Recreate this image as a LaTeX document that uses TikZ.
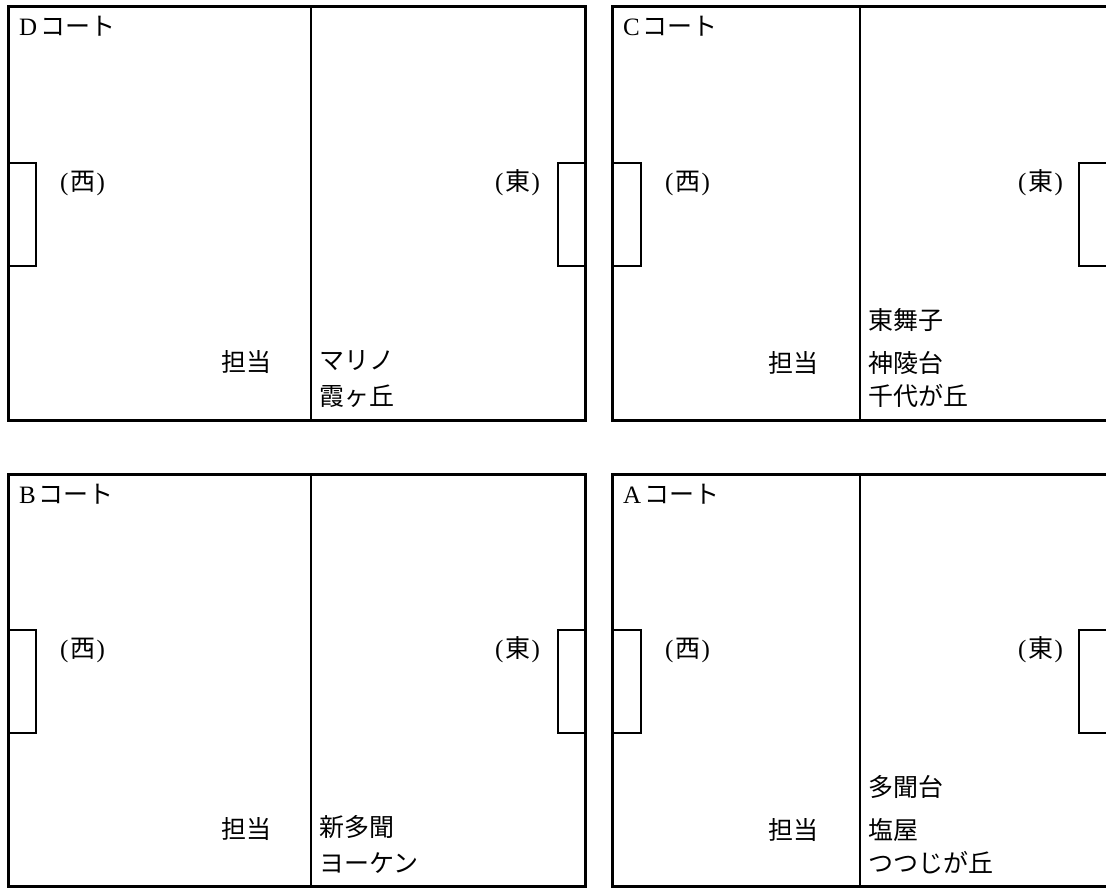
\documentclass[tikz,border=0pt]{standalone}
\usepackage{fontspec}
\setmainfont{Liberation Serif}
\newfontfamily\jp{Noto Sans CJK JP}
\begin{document}
\begin{tikzpicture}[x=1pt,y=-1pt,
  outer/.style={line width=3pt},
  inner/.style={line width=2pt},
  lbl/.style={anchor=base west,inner sep=0pt,font=\fontsize{25}{30}\selectfont},
  jtxt/.style={anchor=base west,inner sep=0pt,font=\jp\fontsize{25}{30}\selectfont}]
\useasboundingbox (0,0) rectangle (1106,888);
\clip (0,0) rectangle (1106,888);
% ---------- top row ----------
\begin{scope}
  % D court
  \draw[outer] (8,7) rectangle (585.5,420.5);
  \draw[inner] (311,7) -- (311,420.5);
  \draw[inner] (8,163) -| (36,266) -- (8,266);
  \draw[inner] (585.5,163) -| (558,266) -- (585.5,266);
  \node[lbl] (Dlab) at (19,36) {D\kern3pt{\jp コート}};
  \node[lbl] (Dw) at (60,190.5) {(\kern1.5pt{\jp 西}\kern1.5pt)};
  \node[lbl] (De) at (495,190.5) {(\kern1.5pt{\jp 東}\kern1.5pt)};
  \node[jtxt] (Dt) at (221,371.5) {担当};
  \node[jtxt] (D1) at (319,369.5) {マリノ};
  \node[jtxt] (D2) at (319,405.5) {霞ヶ丘};
  % C court
  \draw[outer] (612,7) rectangle (1112,420.5);
  \draw[inner] (859.5,7) -- (859.5,420.5);
  \draw[inner] (612,163) -| (640.5,266) -- (612,266);
  \draw[inner] (1112,163) -| (1079,266) -- (1112,266);
  \node[lbl] (Clab) at (623,36) {C\kern3pt{\jp コート}};
  \node[lbl] (Cw) at (665,190.5) {(\kern1.5pt{\jp 西}\kern1.5pt)};
  \node[lbl] (Ce) at (1018,190.5) {(\kern1.5pt{\jp 東}\kern1.5pt)};
  \node[jtxt] (Ct) at (768,372) {担当};
  \node[jtxt] (C1) at (868,329.5) {東舞子};
  \node[jtxt] (C2) at (868,372.5) {神陵台};
  \node[jtxt] (C3) at (868,405.5) {千代が丘};
\end{scope}
% ---------- bottom row ----------
\begin{scope}[shift={(0,467)}]
  % B court
  \draw[outer] (8,7) rectangle (585.5,419);
  \draw[inner] (311,7) -- (311,419);
  \draw[inner] (8,163) -| (36,266) -- (8,266);
  \draw[inner] (585.5,163) -| (558,266) -- (585.5,266);
  \node[lbl] (Blab) at (19,36) {B\kern3pt{\jp コート}};
  \node[lbl] (Bw) at (60,190.5) {(\kern1.5pt{\jp 西}\kern1.5pt)};
  \node[lbl] (Be) at (495,190.5) {(\kern1.5pt{\jp 東}\kern1.5pt)};
  \node[jtxt] (Bt) at (221,371.5) {担当};
  \node[jtxt] (B1) at (319,369.5) {新多聞};
  \node[jtxt] (B2) at (319,405.5) {ヨーケン};
  % A court
  \draw[outer] (612,7) rectangle (1112,419);
  \draw[inner] (859.5,7) -- (859.5,419);
  \draw[inner] (612,163) -| (640.5,266) -- (612,266);
  \draw[inner] (1112,163) -| (1079,266) -- (1112,266);
  \node[lbl] (Alab) at (623,36) {A\kern3pt{\jp コート}};
  \node[lbl] (Aw) at (665,190.5) {(\kern1.5pt{\jp 西}\kern1.5pt)};
  \node[lbl] (Ae) at (1018,190.5) {(\kern1.5pt{\jp 東}\kern1.5pt)};
  \node[jtxt] (At) at (768,372) {担当};
  \node[jtxt] (A1) at (868,329.5) {多聞台};
  \node[jtxt] (A2) at (868,372.5) {塩屋};
  \node[jtxt] (A3) at (868,405.5) {つつじが丘};
\end{scope}
\end{tikzpicture}
\end{document}
